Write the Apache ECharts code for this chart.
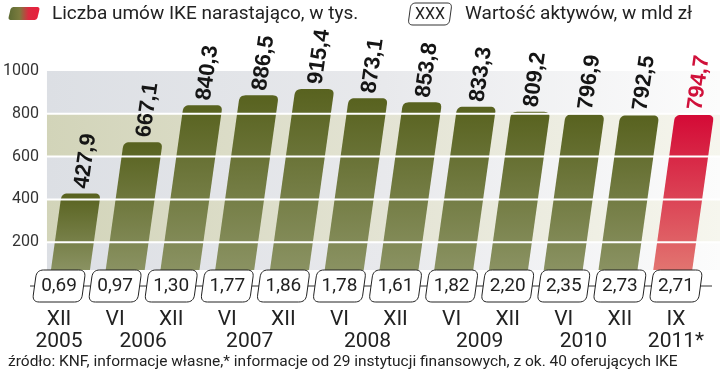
<!DOCTYPE html>
<html><head><meta charset="utf-8">
<script src="https://cdn.jsdelivr.net/npm/echarts@6/dist/echarts.min.js"></script>
<style>html,body{margin:0;padding:0;background:#fff}#c{width:720px;height:381px}</style>
</head><body><div id="c"></div>
<script>
const months = ['XII','VI','XII','VI','XII','VI','XII','VI','XII','VI','XII','IX'];
const contracts = [427.9, 667.1, 840.3, 886.5, 915.4, 873.1, 853.8, 833.3, 809.2, 796.9, 792.5, 794.7];
const assets = [0.69, 0.97, 1.30, 1.77, 1.86, 1.78, 1.61, 1.82, 2.20, 2.35, 2.73, 2.71];
const years = ['2005','2006','2007','2008','2009','2010','2011*'];
const yearPos = [0, 1.5, 3.4, 5.5, 7.5, 9.35, 11.03];
const yTicks = [0, 200, 400, 600, 800, 1000];

const FONT = 'Roboto, "Liberation Sans", sans-serif';
const K = 0.14; // slant of bars (px right per px up)
const LABEL_ROT = 82 * Math.PI / 180;

function grad(x2, y2, stops) {
  return {type: 'linear', x: 0, y: 0, x2: x2, y2: y2, global: false,
    colorStops: stops.map(s => ({offset: s[0], color: s[1]}))};
}
function roundPts(pts, radii) {
  const n = pts.length, out = [];
  for (let i = 0; i < n; i++) {
    const P = pts[i], A = pts[(i - 1 + n) % n], B = pts[(i + 1) % n], r = radii[i];
    if (!r) { out.push(P); continue; }
    const la = Math.hypot(A[0]-P[0], A[1]-P[1]), lb = Math.hypot(B[0]-P[0], B[1]-P[1]);
    const p1 = [P[0] + (A[0]-P[0]) * r / la, P[1] + (A[1]-P[1]) * r / la];
    const p2 = [P[0] + (B[0]-P[0]) * r / lb, P[1] + (B[1]-P[1]) * r / lb];
    for (let t = 0; t <= 1.0001; t += 0.125) {
      const u = 1 - t;
      out.push([u*u*p1[0] + 2*u*t*P[0] + t*t*p2[0], u*u*p1[1] + 2*u*t*P[1] + t*t*p2[1]]);
    }
  }
  return out;
}
const fmt = (v, d) => v.toFixed(d).replace('.', ',');

const chart = echarts.init(document.getElementById('c'), null, {renderer: 'canvas'});

function barGeom(api, i, v) {
  const p0 = api.coord([i, 0]), pt = api.coord([i, v]);
  return {y0: p0[1], yT: pt[1], cx: p0[0]};
}

const option = {
  animation: false,
  backgroundColor: '#fff',
  grid: [
    {left: 39, right: 22, top: 71, bottom: 96},
    {left: 31, right: 16, top: 71, bottom: 96}
  ],
  xAxis: [
    {type: 'category', gridIndex: 0, data: months, show: false},
    {type: 'category', gridIndex: 1, data: months,
     axisLine: {show: false}, axisTick: {show: false},
     axisLabel: {margin: 24, fontSize: 21, color: '#222', fontFamily: FONT, lineHeight: 21}}
  ],
  yAxis: [
    {type: 'value', gridIndex: 0, min: 0, max: 1000, interval: 200,
     axisLine: {show: false}, axisTick: {show: false}, splitLine: {show: false},
     axisLabel: {fontSize: 16, color: '#333', margin: 2, fontFamily: FONT,
       formatter: v => (v === 0 ? '' : String(v))}},
    {type: 'value', gridIndex: 1, min: 0, max: 1000, show: false}
  ],
  graphic: [
    {type: 'polygon', shape: {points: roundPts([[8,20],[37,20],[40,7],[11,7]], [3,3,3,3])},
     style: {fill: grad(1, 0, [[0,'#5c6a32'],[0.35,'#7a7b3e'],[0.65,'#dc2a40'],[1,'#e8203c']])}},
    {type: 'text', x: 52, y: 14, style: {text: 'Liczba umów IKE narastająco, w tys.', font: '19px ' + FONT, fill: '#222', verticalAlign: 'middle'}},
    {type: 'polygon', shape: {points: roundPts([[408,25],[449,25],[452,3],[411,3]], [5,5,5,5])},
     style: {fill: '#fff', stroke: '#333', lineWidth: 1}},
    {type: 'text', x: 430, y: 14.5, style: {text: 'XXX', font: '16px ' + FONT, fill: '#222', align: 'center', verticalAlign: 'middle'}},
    {type: 'text', x: 465, y: 14, style: {text: 'Wartość aktywów, w mld zł', font: '19px ' + FONT, fill: '#222', verticalAlign: 'middle'}},
    {type: 'text', x: 8, y: 362, style: {text: 'źródło: KNF, informacje własne,* informacje od 29 instytucji finansowych, z ok. 40 oferujących IKE', font: '15.5px ' + FONT, fill: '#222', verticalAlign: 'middle'}}
  ],
  series: [
    { // background bands
      type: 'custom', xAxisIndex: 0, yAxisIndex: 0, z: 1, silent: true,
      data: [[0, 0]],
      renderItem: function (params, api) {
        const cs = params.coordSys;
        const x1 = cs.x + 6, x2 = 720;
        const base = api.coord([0, 0])[1] - 15;
        const children = [];
        for (let b = 0; b < yTicks.length - 1; b++) {
          const yb = b === 0 ? base : api.coord([0, yTicks[b]])[1];
          const yt = api.coord([0, yTicks[b + 1]])[1];
          const olive = b % 2 === 1;
          children.push({type: 'rect', shape: {x: x1, y: yt, width: x2 - x1, height: yb - yt},
            style: {fill: olive ?
              grad(1, 0, [[0,'#d2d4b9'],[0.5,'#e3e3d3'],[1,'#f6f6ee']]) :
              grad(1, 0, [[0,'#dcdfe4'],[0.5,'#e8e9ec'],[1,'#fcfcfc']])}});
        }
        return {type: 'group', children: children};
      }
    },
    { // slanted bars
      type: 'custom', xAxisIndex: 0, yAxisIndex: 0, z: 3,
      data: contracts.map((v, i) => [i, v]),
      renderItem: function (params, api) {
        const g = barGeom(api, api.value(0), api.value(1));
        const yB = g.y0 - 15, hw = 19.5;
        const last = params.dataIndex === contracts.length - 1;
        const pts = [
          [g.cx - hw + K * (g.y0 - yB), yB], [g.cx + hw + K * (g.y0 - yB), yB],
          [g.cx + hw + K * (g.y0 - g.yT), g.yT], [g.cx - hw + K * (g.y0 - g.yT), g.yT]];
        const fill = last ?
          grad(0, 1, [[0,'#d40a36'],[1,'#e27470']]) :
          grad(0, 1, [[0,'#58621f'],[1,'#8a9262']]);
        return {type: 'polygon', shape: {points: roundPts(pts, [0, 0, 6, 6])}, style: {fill: fill}};
      }
    },
    { // white grid lines over bars
      type: 'custom', xAxisIndex: 0, yAxisIndex: 0, z: 4, silent: true,
      data: yTicks.slice(1, 5).map(t => [0, t]),
      renderItem: function (params, api) {
        const y = api.coord([0, api.value(1)])[1];
        return {type: 'line', shape: {x1: params.coordSys.x + 6, y1: y, x2: 720, y2: y}, style: {stroke: '#fff', lineWidth: 2}};
      }
    },
    { // value labels
      type: 'custom', xAxisIndex: 0, yAxisIndex: 0, z: 5, silent: true,
      data: contracts.map((v, i) => [i, v]),
      renderItem: function (params, api) {
        const v = api.value(1);
        const g = barGeom(api, api.value(0), v);
        const last = params.dataIndex === contracts.length - 1;
        const gap = 5;
        return {type: 'text', x: g.cx + K * (g.y0 - g.yT + gap), y: g.yT - gap, rotation: LABEL_ROT,
           style: {text: fmt(v, 1), font: 'bold 22px "Liberation Sans", Arial, sans-serif',
             fill: last ? '#d0103a' : '#151515', align: 'left', verticalAlign: 'middle'}};
      }
    },
    { // connecting line under boxes
      type: 'custom', xAxisIndex: 1, yAxisIndex: 1, z: 3, silent: true,
      data: [[0, 0]],
      renderItem: function (params, api) {
        const y = api.coord([0, 0])[1] + 1;
        return {type: 'line', shape: {x1: 30, y1: y, x2: 712, y2: y}, style: {stroke: '#333', lineWidth: 1}};
      }
    },
    { // asset boxes
      type: 'custom', xAxisIndex: 1, yAxisIndex: 1, z: 4,
      data: assets.map((v, i) => [i, 0, v]),
      renderItem: function (params, api) {
        const i = api.value(0), v = api.value(2);
        const p = api.coord([i, 0]);
        const cx = p[0], cy = p[1] + 1, hw = 24.5, hh = 16, s = 2.2;
        const pts = [[cx - hw - s, cy + hh], [cx + hw - s, cy + hh], [cx + hw + s, cy - hh], [cx - hw + s, cy - hh]];
        return {type: 'group', children: [
          {type: 'polygon', shape: {points: roundPts(pts, [7, 7, 7, 7])}, style: {fill: '#fff', stroke: '#222', lineWidth: 1}},
          {type: 'text', x: cx, y: cy + 0.5, style: {text: fmt(v, 2), font: '19px ' + FONT, fill: '#222', align: 'center', verticalAlign: 'middle'}}
        ]};
      }
    },
    { // year labels
      type: 'custom', xAxisIndex: 1, yAxisIndex: 1, z: 4, silent: true,
      data: years.map((y, i) => [yearPos[i], 0]),
      renderItem: function (params, api) {
        const pos = api.value(0);
        const a = Math.floor(pos), b = Math.min(a + 1, months.length - 1);
        const pa = api.coord([a, 0]), pb = api.coord([b, 0]);
        const x = pa[0] + (pb[0] - pa[0]) * (pos - a);
        const y = pa[1] + 57;
        return {type: 'text', x: x, y: y, style: {text: years[params.dataIndex], font: '21px ' + FONT, fill: '#222', align: 'center', verticalAlign: 'middle'}};
      }
    }
  ]
};
chart.setOption(option);
</script></body></html>
